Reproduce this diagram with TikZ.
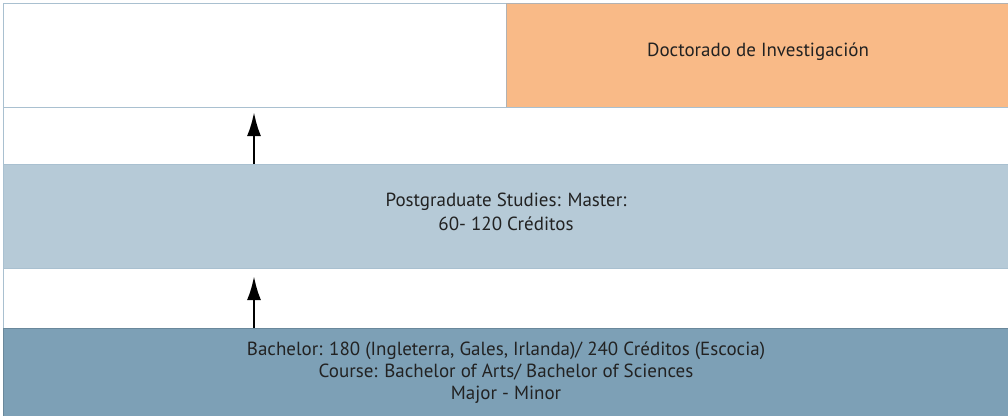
\documentclass[tikz,border=0pt]{standalone}
\usepackage{fontspec}
\setmainfont{PT Sans}
\usetikzlibrary{arrows.meta}
\definecolor{orng}{HTML}{F9BA87}
\definecolor{lblue}{HTML}{B6CAD7}
\definecolor{dblue}{HTML}{7DA0B6}
\definecolor{edge}{HTML}{A9C0D0}
\definecolor{txt}{HTML}{222222}
\tikzset{
  band/.style={draw=edge, line width=1pt, inner sep=0pt, anchor=north west},
  lbl/.style={text=txt, font=\fontsize{19}{24}\selectfont, align=center},
  up/.style={-{Latex[length=24pt,width=14pt]}, line width=2.6pt, black}
}
\begin{document}
\begin{tikzpicture}[x=1pt,y=-1pt]
\useasboundingbox (0,0) rectangle (1008,415);
\fill[white] (0,0) rectangle (1008,415);
% top row
\node[band, fill=white, minimum width=503pt, minimum height=104pt] (tl) at (3,3) {};
\node[band, fill=orng, draw=gray!60, minimum width=504pt, minimum height=104pt] (doc) at (506,3) {};
\node[lbl] (doclbl) at (758,52) {Doctorado de Investigación};
% gap
\node[band, fill=white, minimum width=1007pt, minimum height=57pt] (g1) at (3,107) {};
% master
\node[band, fill=lblue, minimum width=1007pt, minimum height=104pt] (mst) at (3,164) {};
\node[lbl] (mstlbl) at (506,212) {Postgraduate Studies: Master:\\60- 120 Créditos};
% gap 2
\node[band, fill=white, minimum width=1007pt, minimum height=60pt] (g2) at (3,268) {};
% bachelor
\node[band, fill=dblue, draw=dblue!85!black, minimum width=1007pt, minimum height=90pt] (bch) at (3,328) {};
\node[lbl, font=\fontsize{19}{22}\selectfont] (bchlbl) at (506,373) {Bachelor: 180 (Ingleterra, Gales, Irlanda)/ 240 Créditos (Escocia)\\Course: Bachelor of Arts/ Bachelor of Sciences\\Major - Minor};
% arrows
\coordinate (a1s) at (254,164);
\coordinate (a1e) at (254,112);
\coordinate (a2s) at (254,328);
\coordinate (a2e) at (254,276);
\draw[up] (a1s) -- (a1e);
\draw[up] (a2s) -- (a2e);
\end{tikzpicture}
\end{document}
